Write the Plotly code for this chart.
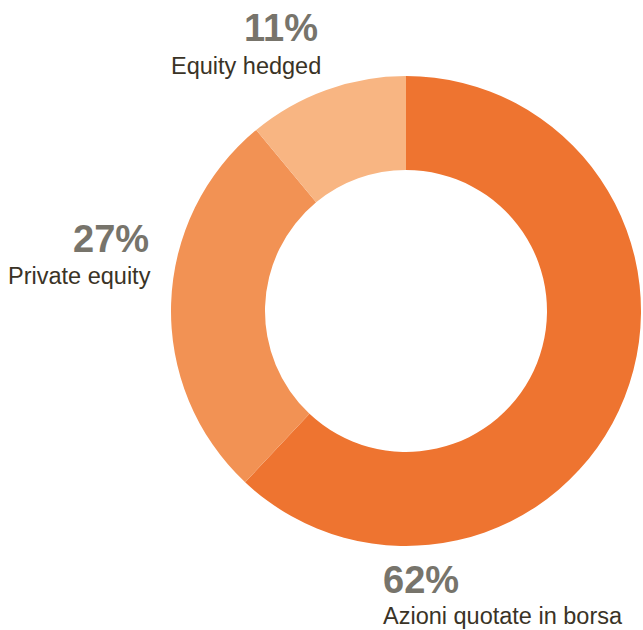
import plotly.graph_objects as go

categories = ["Azioni quotate in borsa", "Private equity", "Equity hedged"]
shares = [62, 27, 11]
pct_labels = ["62%", "27%", "11%"]
colors = ["#EE7430", "#F29254", "#F8B582"]

W, H = 643, 630

fig = go.Figure()
fig.add_trace(go.Pie(
    labels=categories,
    values=shares,
    sort=False,
    direction="clockwise",
    rotation=0,
    hole=0.6,
    textinfo="none",
    hoverinfo="label+percent",
    marker=dict(colors=colors, line=dict(width=0)),
    showlegend=False,
    domain=dict(x=[171 / W, 641 / W], y=[1 - 546 / H, 1 - 76 / H]),
))

def px(x):
    return x / W

def py(y):
    return 1 - y / H

pct_font = dict(family="Liberation Sans, Arial, sans-serif", size=38, color="#77746b", weight=700)
lab_font = dict(family="Liberation Sans, Arial, sans-serif", size=23.5, color="#3a3326")

# (pct index, pct x, pct y-mid, anchor, label x, label y-mid)
placements = [
    (0, 381, 580, "left", 381, 616),
    (1, 151, 239, "right", 153, 276),
    (2, 320, 28, "right", 323, 66),
]

for i, xp, yp, anc, xl, yl in placements:
    fig.add_annotation(x=px(xp), y=py(yp), xref="paper", yref="paper",
                       text=pct_labels[i], showarrow=False,
                       xanchor=anc, yanchor="middle", font=pct_font)
    fig.add_annotation(x=px(xl), y=py(yl), xref="paper", yref="paper",
                       text=categories[i], showarrow=False,
                       xanchor=anc, yanchor="middle", font=lab_font)

fig.update_layout(
    width=W, height=H,
    margin=dict(l=0, r=0, t=0, b=0),
    paper_bgcolor="white",
    plot_bgcolor="white",
)

fig.write_html(
    "out.html",
    config={"displayModeBar": False},
    post_script="document.body.style.margin='0';document.body.style.padding='0';",
)
